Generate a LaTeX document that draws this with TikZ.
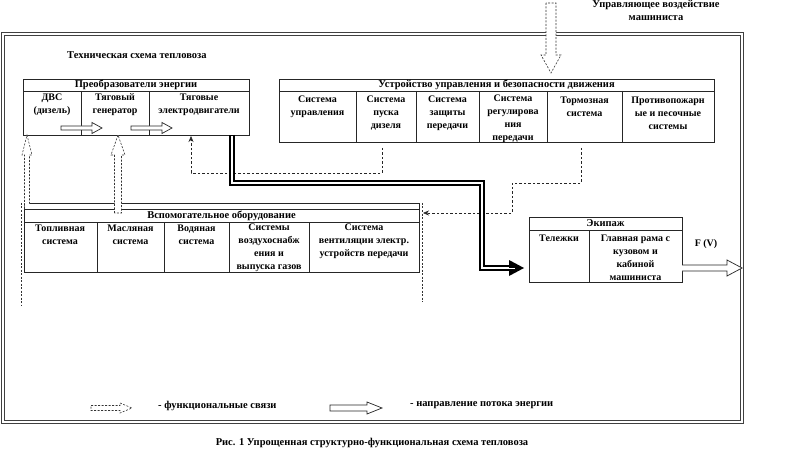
\documentclass[tikz,border=0pt]{standalone}
\usepackage{fontspec}
\setmainfont{Liberation Serif}
\usetikzlibrary{arrows.meta}
\begin{document}
\begin{tikzpicture}[x=1pt,y=-1pt,
  cell/.style={font=\bfseries\fontsize{10}{13}\selectfont, align=center, inner sep=0pt},
  head/.style={font=\bfseries\fontsize{10.5}{13}\selectfont, align=center, inner sep=0pt},
  big/.style={font=\bfseries\fontsize{10.5}{13}\selectfont, inner sep=0pt},
  boxline/.style={draw=black!85, line width=0.8pt},
  frameline/.style={draw=black!75, line width=0.9pt},
  fdash/.style={draw=black!80, line width=0.6pt, dash pattern=on 2pt off 1.5pt},
  flink/.style={draw=black!85, line width=0.6pt, dash pattern=on 2.5pt off 2pt, -{Stealth[length=6pt,width=5pt]}},
  harrow/.style={draw=black!85, line width=0.7pt, fill=white}]
\useasboundingbox (0,0) rectangle (800,473);
\fill[white] (0,0) rectangle (800,473);

% outer double frame
\draw[frameline] (1.5,32) rectangle (743,423);
\draw[frameline] (4.5,35) rectangle (740,420);

% top text
\node[big] (ctrlA) at (656,5) {Управляющее воздействие};
\node[big] (ctrlB) at (656,18) {машиниста};
\node[big, anchor=west] (title) at (67,55) {Техническая схема тепловоза};

% control input arrow (dashed hollow)
\coordinate (inTop) at (551,3);
\coordinate (inTip) at (551,73);
\draw[fdash, fill=white] (546,3) -- (546,55) -- (541,55) -- (inTip) -- (561,55) -- (556,55) -- (556,3) -- cycle;

% energy converters box
\draw[boxline] (23,79) rectangle (249,135);
\draw[boxline] (23,91) -- (249,91);
\draw[boxline] (81,91) -- (81,135);
\draw[boxline] (149,91) -- (149,135);
\node[head] (eHead) at (136,85) {Преобразователи энергии};
\node[cell] (dvs) at (52,105) {ДВС\\(дизель)};
\node[cell] (gen) at (115,105) {Тяговый\\генератор};
\node[cell] (mot) at (199,105) {Тяговые\\электродвигатели};
% inner energy arrows
\draw[harrow] (61,126) -- (92,126) -- (92,122.5) -- (102,128) -- (92,133.5) -- (92,130) -- (61,130) -- cycle;
\draw[harrow] (131,126) -- (162,126) -- (162,122.5) -- (172,128) -- (162,133.5) -- (162,130) -- (131,130) -- cycle;

% control & safety box
\draw[boxline] (279,79) rectangle (714,142);
\draw[boxline] (279,91) -- (714,91);
\foreach \x in {356,416,479,547,622} \draw[boxline] (\x,91) -- (\x,142);
\node[head] (cHead) at (496.5,85) {Устройство  управления и безопасности движения};
\node[cell] (c1) at (317.5,107) {Система\\управления};
\node[cell] (c2) at (386,113) {Система\\пуска\\дизеля};
\node[cell] (c3) at (447.5,113) {Система\\защиты\\передачи};
\node[cell] (c4) at (513,119) {Система\\регулирова\\ния\\передачи};
\node[cell] (c5) at (584.5,107) {Тормозная\\система};
\node[cell] (c6) at (668,113) {Противопожарн\\ые и песочные\\системы};

% auxiliary equipment box
\draw[fdash] (21,203) -- (21,305);
\draw[fdash] (422,203) -- (422,302);
\draw[boxline] (24,203) rectangle (419,272);
\draw[boxline] (24,209) -- (419,209);
\draw[boxline] (24,222) -- (419,222);
\foreach \x in {97,164,229,309} \draw[boxline] (\x,222) -- (\x,272);
\node[head] (aHead) at (221.5,215.5) {Вспомогательное  оборудование};
\node[cell] (a1) at (60,235) {Топливная\\система};
\node[cell] (a2) at (130.5,235) {Масляная\\система};
\node[cell] (a3) at (196.5,235) {Водяная\\система};
\node[cell] (a4) at (269,247.5) {Системы\\воздухоснабж\\ения и\\выпуска газов};
\node[cell] (a5) at (364,241.5) {Система\\вентиляции  электр.\\устройств передачи};

% crew box (Экипаж)
\draw[boxline] (529,217) rectangle (682,282);
\draw[boxline] (529,230) -- (682,230);
\draw[boxline] (589,230) -- (589,282);
\node[head] (kHead) at (605.5,223.5) {Экипаж};
\node[cell] (k1) at (559,238.5) {Тележки};
\node[cell] (k2) at (635.5,257.5) {Главная рама с\\кузовом и\\кабиной\\машиниста};

% functional hollow arrows from aux box
\coordinate (dvsIn) at (27,135);
\coordinate (genIn) at (118,135);
\draw[fdash, fill=white] (24.5,209) -- (24.5,155) -- (22,155) -- (dvsIn) -- (32,155) -- (29.5,155) -- (29.5,203);
\draw[fdash, fill=white] (114.5,213) -- (114.5,155) -- (111,155) -- (genIn) -- (125,155) -- (121.5,155) -- (121.5,213) -- cycle;

% thin dashed functional links
\coordinate (p1) at (382,148);
\coordinate (p1b) at (382,173);
\coordinate (p1c) at (191,173);
\coordinate (motIn) at (191,136);
\draw[flink] (p1) -- (p1b) -- (p1c) -- (motIn);
\coordinate (p2) at (581,148);
\coordinate (p2b) at (581,183);
\coordinate (p2c) at (512,183);
\coordinate (p2d) at (512,213);
\coordinate (auxIn) at (423,213);
\draw[flink] (p2) -- (p2b) -- (p2c) -- (p2d) -- (auxIn);

% energy flow band
\coordinate (eS) at (232,135);
\coordinate (e1) at (232,183);
\coordinate (e2) at (482,183);
\coordinate (e3) at (482,268);
\coordinate (eE) at (509,268);
\coordinate (eT) at (524,268);
\draw[black, line width=6pt] (eS) -- (e1) -- (e2) -- (e3) -- (eE);
\draw[white, line width=1.4pt] ([yshift=-1pt]eS) -- (e1) -- (e2) -- (e3) -- (eE);
\fill[black] (509,260) -- (eT) -- (509,276) -- cycle;
\draw[white, line width=1pt] (505,268) -- (515,268);

% output arrow
\coordinate (fOut) at (682,268);
\coordinate (fTip) at (742,268);
\draw[harrow] (fOut) ++(0,-3) -- (727,265) -- (727,260) -- (fTip) -- (727,276) -- (727,271) -- (682,271);
\node[cell] (fv) at (706,244) {F (V)};

% legend
\draw[fdash, fill=white] (91,405.5) -- (120,405.5) -- (120,403) -- (132,408) -- (120,413) -- (120,410.5) -- (91,410.5) -- cycle;
\node[head, anchor=west] (lg1) at (158,405.5) {- функциональные связи};
\draw[harrow] (330,405) -- (367,405) -- (367,402) -- (382,408) -- (367,414) -- (367,411) -- (330,411) -- cycle;
\node[head, anchor=west] (lg2) at (410,405.5) {- направление потока энергии};

% caption
\node[big] (cap) at (372,443) {Рис. 1 Упрощенная структурно-функциональная схема тепловоза};
\end{tikzpicture}
\end{document}
